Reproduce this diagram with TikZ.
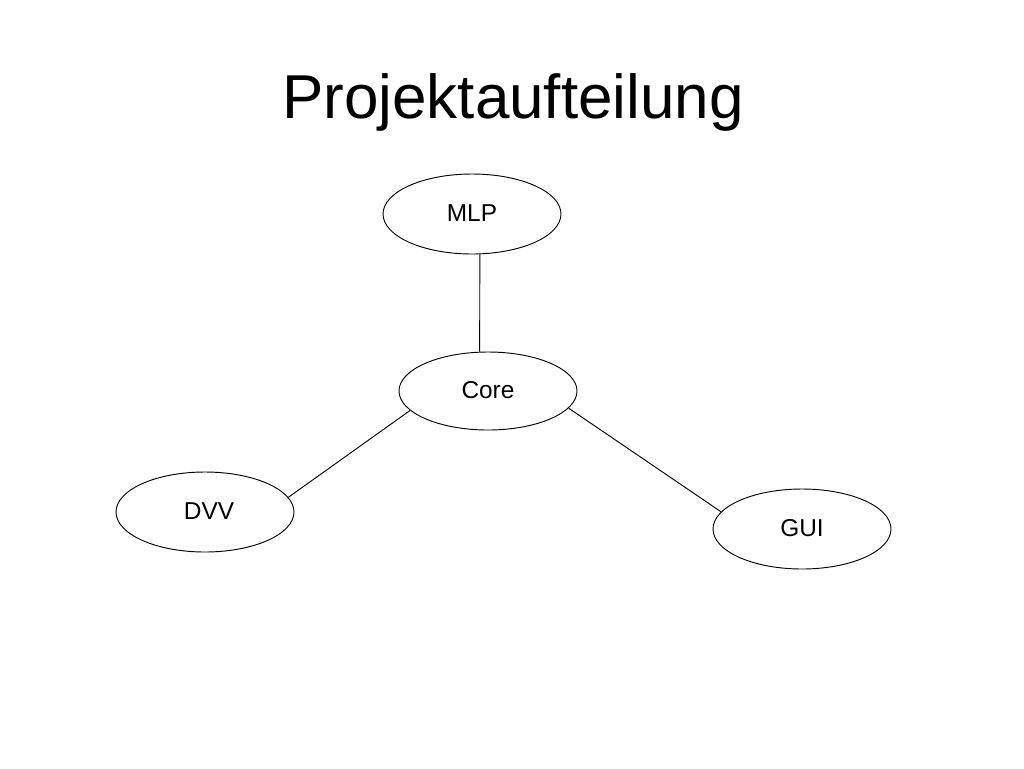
\documentclass[tikz,border=0pt]{standalone}
\usepackage{fontspec}
\setmainfont{Liberation Sans}
\usepackage{tikz}
\usetikzlibrary{shapes,positioning}

\begin{document}
\begin{tikzpicture}[x=0.75pt, y=-0.75pt, line width=0.7pt,
		Ellipse/.style={
            ellipse,
            draw,
            inner sep=0pt,
            minimum width=133.5pt,
            minimum height=60pt,
            font=\fontsize{18.3}{20}\selectfont
		},
		Title/.style={
            anchor=base,
            font=\fontsize{46.5}{52}\selectfont
		}]
		\useasboundingbox (0,0) rectangle (1024,768);
		\node[Title] (Head) at (513,118) {Projektaufteilung};
		\node[Ellipse] (Mlp) at (472,214) {\raisebox{1.5pt}{MLP}};
		\node[Ellipse, minimum height=58.5pt] (Core) at (488,391) {\raisebox{1pt}{Core}};
		\node[Ellipse] (Dvv) at (205,512) {\raisebox{1.5pt}{\hspace{6pt}DVV}};
		\node[Ellipse] (Gui) at (802,529) {\raisebox{2pt}{GUI}};
		% connectors
		\draw (Mlp.-79) -- (Core.102);
		\draw (Core.194) -- (Dvv.10);
		\draw (Core.-12) -- (Gui.168);
	\end{tikzpicture}
\end{document}
